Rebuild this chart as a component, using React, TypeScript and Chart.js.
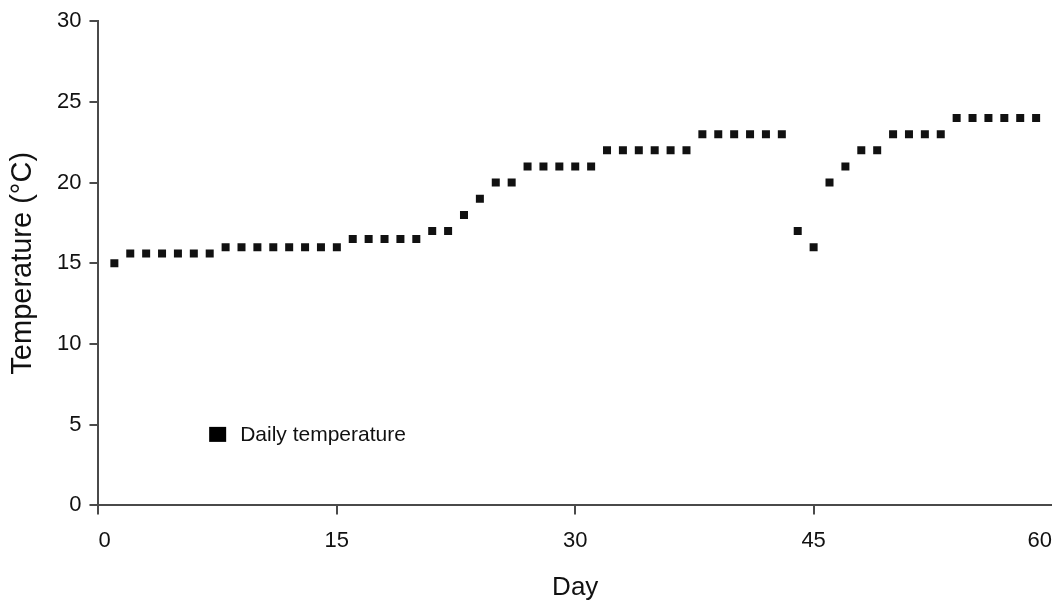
import React, { useEffect, useRef } from "react";
import { Chart, registerables } from "chart.js";

Chart.register(...registerables);

const days: number[] = [
  1, 2, 3, 4, 5, 6, 7, 8, 9, 10, 11, 12, 13, 14, 15, 16, 17, 18, 19, 20,
  21, 22, 23, 24, 25, 26, 27, 28, 29, 30, 31, 32, 33, 34, 35, 36, 37, 38, 39, 40,
  41, 42, 43, 44, 45, 46, 47, 48, 49, 50, 51, 52, 53, 54, 55, 56, 57, 58, 59,
];

const temperatures: number[] = [
  15, 15.6, 15.6, 15.6, 15.6, 15.6, 15.6, 16, 16, 16, 16, 16, 16, 16, 16, 16.5, 16.5, 16.5, 16.5, 16.5,
  17, 17, 18, 19, 20, 20, 21, 21, 21, 21, 21, 22, 22, 22, 22, 22, 22, 23, 23, 23,
  23, 23, 23, 17, 16, 20, 21, 22, 22, 23, 23, 23, 23, 24, 24, 24, 24, 24, 24,
];

const xTicks: number[] = [0, 15, 30, 45, 60];
const yTicks: number[] = [0, 5, 10, 15, 20, 25, 30];

const seriesLabel = "Daily temperature";
const xTitle = "Day";
const yTitle = "Temperature (°C)";

const FONT = "'Liberation Sans', Arial, Helvetica, sans-serif";
const AXIS_COLOR = "#4a4a4a";
const TEXT_COLOR = "#111111";

const legendPlugin = {
  id: "insideLegend",
  afterDatasetsDraw(chart: any) {
    const { ctx, scales } = chart;
    const cx = scales.x.getPixelForValue(7.5);
    const cy = scales.y.getPixelForValue(4.4);
    ctx.save();
    ctx.fillStyle = "#000";
    ctx.fillRect(cx - 8.5, cy - 7.5, 17, 15);
    ctx.fillStyle = TEXT_COLOR;
    ctx.font = `21px ${FONT}`;
    ctx.textBaseline = "middle";
    ctx.textAlign = "left";
    ctx.fillText(chart.data.datasets[0].label, cx + 22.5, cy + 1);
    ctx.restore();
  },
};

export default function App() {
  const canvasRef = useRef<HTMLCanvasElement | null>(null);

  useEffect(() => {
    if (!canvasRef.current) return;
    const chart = new Chart(canvasRef.current, {
      type: "scatter",
      data: {
        datasets: [
          {
            label: seriesLabel,
            data: days.map((d, i) => ({ x: d, y: temperatures[i] })),
            pointStyle: "rect",
            pointRadius: 5.66,
            pointBorderWidth: 0,
            backgroundColor: "#111",
            borderColor: "#111",
          },
        ],
      },
      options: {
        animation: false,
        responsive: false,
        maintainAspectRatio: false,
        layout: { autoPadding: false, padding: { top: 21, right: 0, left: 0, bottom: 0 } },
        plugins: {
          legend: { display: false },
          tooltip: { enabled: false },
        },
        scales: {
          x: {
            type: "linear",
            min: 0,
            max: 60,
            afterBuildTicks: (scale: any) => {
              scale.ticks = xTicks.map((v) => ({ value: v }));
            },
            afterFit: (scale: any) => {
              scale.paddingRight = 0;
            },
            ticks: {
              align: "inner",
              padding: 13,
              color: TEXT_COLOR,
              font: { family: FONT, size: 22 },
            },
            grid: {
              drawOnChartArea: false,
              drawTicks: true,
              tickLength: 9,
              color: (ctx: any) =>
                ctx.tick && ctx.tick.value === xTicks[xTicks.length - 1] ? "rgba(0,0,0,0)" : AXIS_COLOR,
              lineWidth: 2,
            },
            border: { display: true, color: AXIS_COLOR, width: 2 },
            title: {
              display: true,
              text: xTitle,
              color: TEXT_COLOR,
              font: { family: FONT, size: 26 },
              padding: { top: 5, bottom: 0 },
            },
          },
          y: {
            type: "linear",
            min: 0,
            max: 30,
            afterBuildTicks: (scale: any) => {
              scale.ticks = yTicks.map((v) => ({ value: v }));
            },
            ticks: {
              padding: 8,
              color: TEXT_COLOR,
              font: { family: FONT, size: 22 },
            },
            grid: {
              drawOnChartArea: false,
              drawTicks: true,
              tickLength: 9,
              color: AXIS_COLOR,
              lineWidth: 2,
            },
            border: { display: true, color: AXIS_COLOR, width: 2 },
            title: {
              display: true,
              text: yTitle,
              color: TEXT_COLOR,
              font: { family: FONT, size: 29 },
              padding: { top: 5.6, bottom: 8.6 },
            },
          },
        },
      },
      plugins: [legendPlugin],
    });
    return () => chart.destroy();
  }, []);

  return (
    <div
      style={{
        position: "fixed",
        left: 0,
        top: 0,
        width: 1052,
        height: 603,
        background: "#fff",
      }}
    >
      <canvas ref={canvasRef} width={1052} height={603} />
    </div>
  );
}
